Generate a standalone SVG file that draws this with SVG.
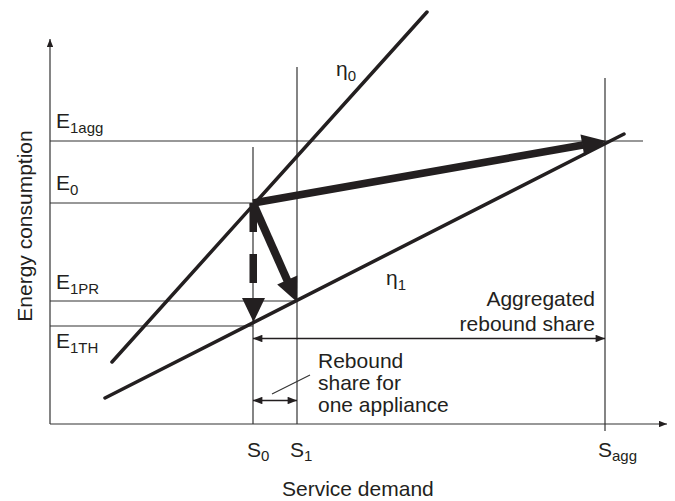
<svg xmlns="http://www.w3.org/2000/svg" width="675" height="501" viewBox="0 0 675 501">
  <style>
    .thin { stroke: #333; stroke-width: 1.2; fill: none; }
    .dim { stroke: #231f20; stroke-width: 1.6; fill: none; }
    .curve { stroke: #231f20; stroke-width: 3.5; fill: none; stroke-linecap: round; }
    .thick { stroke: #231f20; fill: none; }
    .head { fill: #231f20; stroke: none; }
    text { font-family: "Liberation Sans", Arial, sans-serif; font-size: 21px; fill: #231f20; }
    .sub { font-size: 15px; }
  </style>
  <defs>
    <marker id="ah" viewBox="0 0 10 8" refX="10" refY="4" markerWidth="8" markerHeight="6.4" markerUnits="userSpaceOnUse" orient="auto-start-reverse">
      <path d="M0,0 L10,4 L0,8 Z" fill="#231f20"/>
    </marker>
    <marker id="dh" viewBox="0 0 10 8" refX="10" refY="4" markerWidth="10" markerHeight="7.5" markerUnits="userSpaceOnUse" orient="auto-start-reverse">
      <path d="M0,0 L10,4 L0,8 Z" fill="#231f20"/>
    </marker>
  </defs>
  <rect width="675" height="501" fill="#ffffff"/>

  <g id="axes">
    <line class="thin" x1="50" y1="424" x2="50" y2="39" marker-end="url(#ah)"/>
    <line class="thin" x1="50" y1="424" x2="667" y2="424" marker-end="url(#ah)"/>
  </g>

  <g id="guides">
    <line class="thin" x1="50" y1="141" x2="643" y2="141"/>
    <line class="thin" x1="50" y1="203" x2="253" y2="203"/>
    <line class="thin" x1="50" y1="301" x2="297" y2="301"/>
    <line class="thin" x1="50" y1="326" x2="253" y2="326"/>
    <line class="thin" x1="253" y1="147" x2="253" y2="424"/>
    <line class="thin" x1="297" y1="67" x2="297" y2="424"/>
    <line class="thin" x1="605" y1="78" x2="605" y2="431"/>
  </g>

  <g id="eta0-line">
    <line class="curve" x1="112" y1="362" x2="427" y2="12"/>
  </g>
  <g id="eta1-line">
    <line class="curve" x1="105" y1="398" x2="624" y2="134"/>
  </g>

  <g id="connectors">
    <line class="thick" stroke-width="7.5" x1="253" y1="203" x2="583" y2="145"/>
    <polygon class="head" points="606,141 584.3,156 580.5,134.4"/>
    <line class="thick" stroke-width="8" x1="253" y1="203" x2="288" y2="282"/>
    <polygon class="head" points="297,302 297.3,275.6 277.2,284.6"/>
    <rect class="head" x="249.5" y="203" width="7.5" height="29"/>
    <rect class="head" x="249.5" y="254" width="7.5" height="29"/>
    <polygon class="head" points="242,298 265,298 253.5,322"/>
    <line class="dim" x1="253" y1="338.5" x2="605" y2="338.5" marker-start="url(#dh)" marker-end="url(#dh)"/>
    <line class="dim" stroke-width="2" x1="253" y1="400.5" x2="297" y2="400.5" marker-start="url(#dh)" marker-end="url(#dh)"/>
    <line class="thin" x1="272" y1="394" x2="310" y2="375"/>
  </g>

  <g id="labels">
    <text x="56" y="128">E<tspan class="sub" dy="5">1agg</tspan></text>
    <text x="56" y="190">E<tspan class="sub" dy="5">0</tspan></text>
    <text x="56" y="289">E<tspan class="sub" dy="5">1PR</tspan></text>
    <text x="56" y="348">E<tspan class="sub" dy="5">1TH</tspan></text>
    <text x="247" y="457">S<tspan class="sub" dy="4">0</tspan></text>
    <text x="290" y="457">S<tspan class="sub" dy="4">1</tspan></text>
    <text x="598" y="457">S<tspan class="sub" dy="4">agg</tspan></text>
    <text x="336" y="76">η<tspan class="sub" dy="5">0</tspan></text>
    <text x="386" y="285">η<tspan class="sub" dy="5">1</tspan></text>
    <text x="282" y="496">Service demand</text>
    <text transform="translate(32,226) rotate(-90)" text-anchor="middle">Energy consumption</text>
    <text x="595" y="306" text-anchor="end">Aggregated</text>
    <text x="595" y="331" text-anchor="end">rebound share</text>
    <text x="318" y="368">Rebound</text>
    <text x="318" y="390">share for</text>
    <text x="318" y="412">one appliance</text>
  </g>
</svg>
